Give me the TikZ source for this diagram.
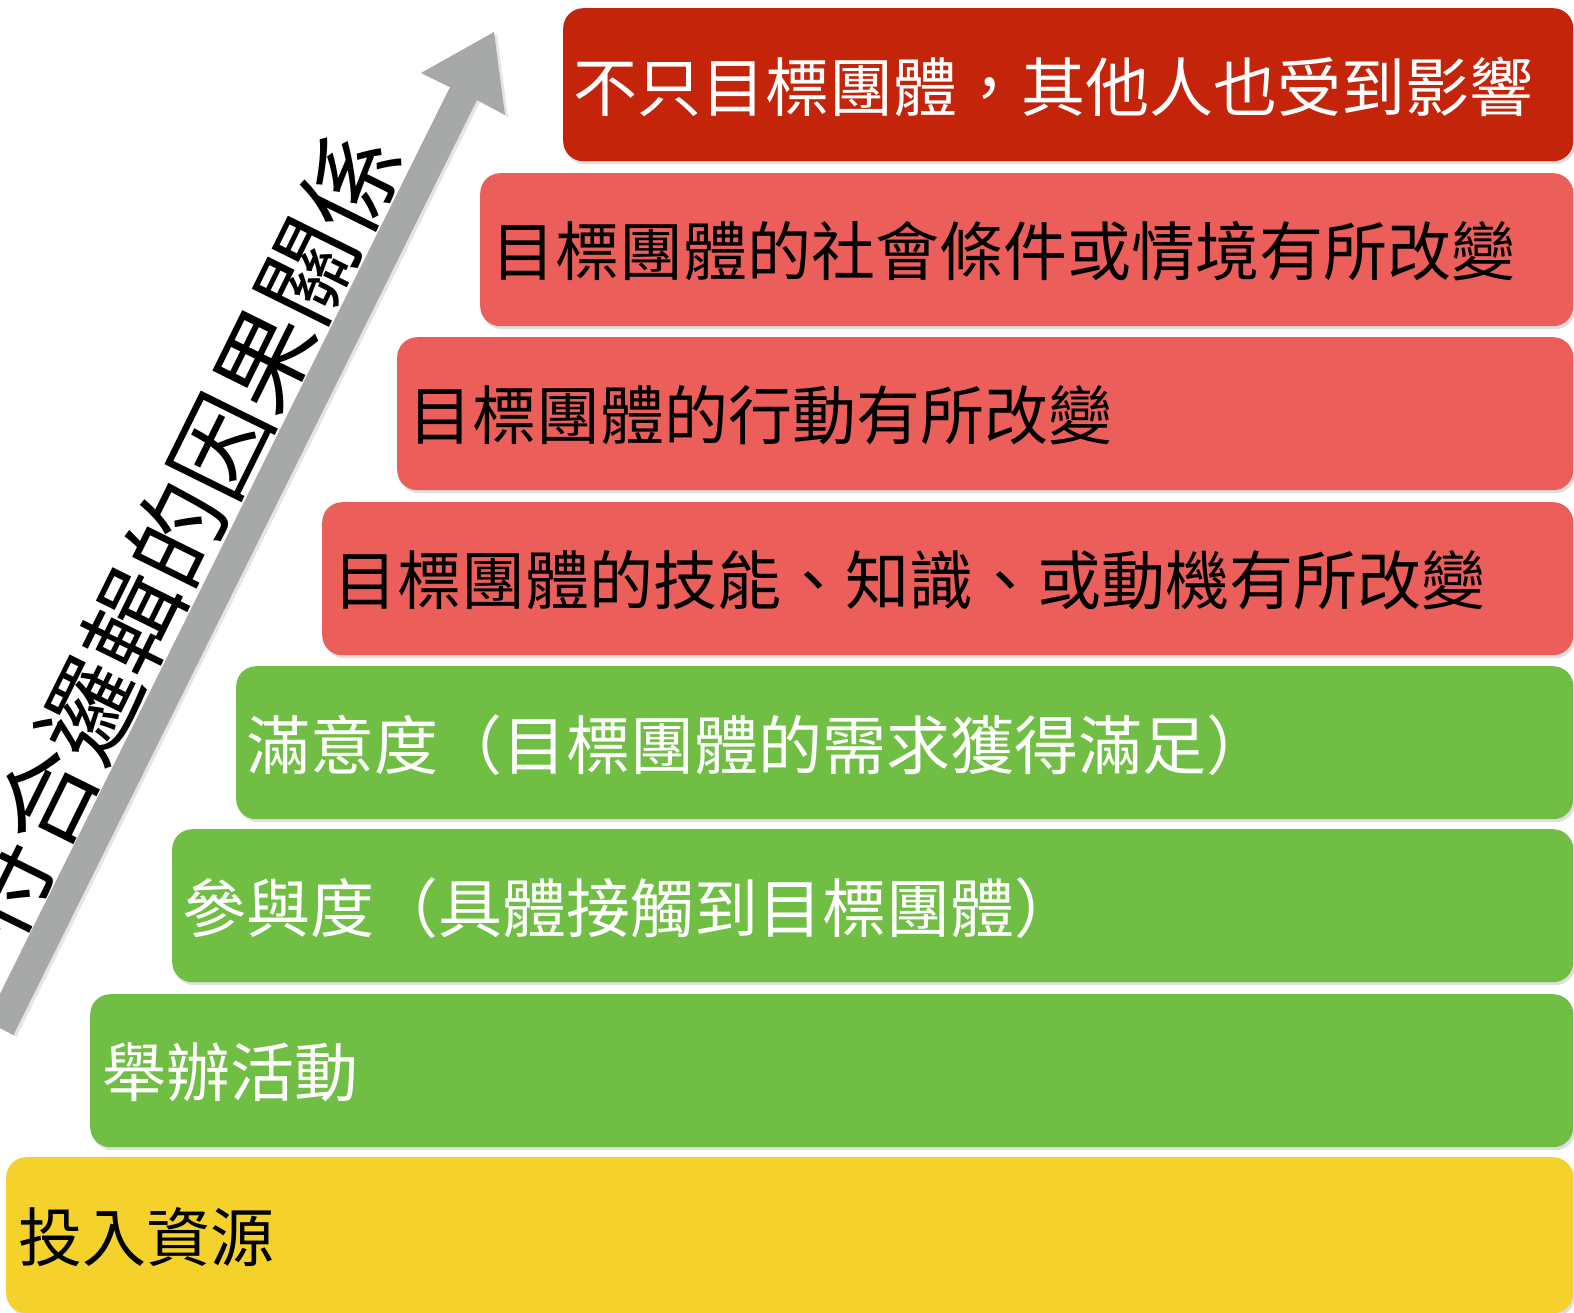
\documentclass[tikz,border=0pt]{standalone}
\usepackage{fontspec}
\setmainfont{Noto Sans CJK TC}
\usetikzlibrary{shadows}
\definecolor{darkred}{HTML}{C4240A}
\definecolor{salmon}{HTML}{EB5E59}
\definecolor{grn}{HTML}{70BF44}
\definecolor{yel}{HTML}{F4D22B}
\definecolor{arrowgray}{HTML}{A6A9A7}
\begin{document}
\begin{tikzpicture}[x=1pt,y=-1pt,
  box/.style={rounded corners=20pt, minimum height=153pt, anchor=north west,
    inner sep=0pt, draw=none,
    drop shadow={shadow xshift=2pt,shadow yshift=-3pt,opacity=0.25}},
  lbl/.style={anchor=west, inner sep=0pt, font=\fontsize{64}{70}\selectfont},
  biglbl/.style={rotate=63.7, inner sep=0pt, font=\fontsize{98}{100}\selectfont},
  arrowshape/.style={fill=arrowgray, draw=none,
    drop shadow={shadow xshift=3pt,shadow yshift=-2pt,opacity=0.2}}]
\useasboundingbox (0,0) rectangle (1574,1312);
\fill[white] (0,0) rectangle (1574,1312);
\begin{scope}
\clip (0,0) rectangle (1574,1312);
% boxes
\node[box, fill=darkred, minimum width=1010pt] (b1) at (563,8) {};
\node[box, fill=salmon,  minimum width=1093pt] (b2) at (480,173) {};
\node[box, fill=salmon,  minimum width=1176pt] (b3) at (397,337) {};
\node[box, fill=salmon,  minimum width=1251pt] (b4) at (322,502) {};
\node[box, fill=grn,     minimum width=1337pt] (b5) at (236,666) {};
\node[box, fill=grn,     minimum width=1401pt] (b6) at (172,829) {};
\node[box, fill=grn,     minimum width=1483pt] (b7) at (90,994) {};
\node[box, fill=yel,     minimum width=1567pt, minimum height=156pt] (b8) at (6,1157) {};
% labels
\node[lbl, text=white] (t1) at ([xshift=10pt,yshift=-2pt]b1.west) {不只目標團體，其他人也受到影響};
\node[lbl, text=black] (t2) at ([xshift=11pt,yshift=-2pt]b2.west) {目標團體的社會條件或情境有所改變};
\node[lbl, text=black] (t3) at ([xshift=11pt,yshift=-2pt]b3.west) {目標團體的行動有所改變};
\node[lbl, text=black] (t4) at ([xshift=11pt,yshift=-2pt]b4.west) {目標團體的技能、知識、或動機有所改變};
\node[lbl, text=white] (t5) at ([xshift=10pt,yshift=-2pt]b5.west) {滿意度（目標團體的需求獲得滿足）};
\node[lbl, text=white] (t6) at ([xshift=10pt,yshift=-2pt]b6.west) {參與度（具體接觸到目標團體）};
\node[lbl, text=white] (t7) at ([xshift=12pt,yshift=-2pt]b7.west) {舉辦活動};
\node[lbl, text=black] (t8) at ([xshift=12pt,yshift=-2pt]b8.west) {投入資源};
% arrow
\path[arrowshape] (494,32) -- (505,115) -- (477,100) -- (13.5,1035)
  -- (-13.5,1021) -- (450,87) -- (421,73) -- cycle;
\node[biglbl] (lab) at (176,534) {符合邏輯的因果關係};
\end{scope}
\end{tikzpicture}
\end{document}
